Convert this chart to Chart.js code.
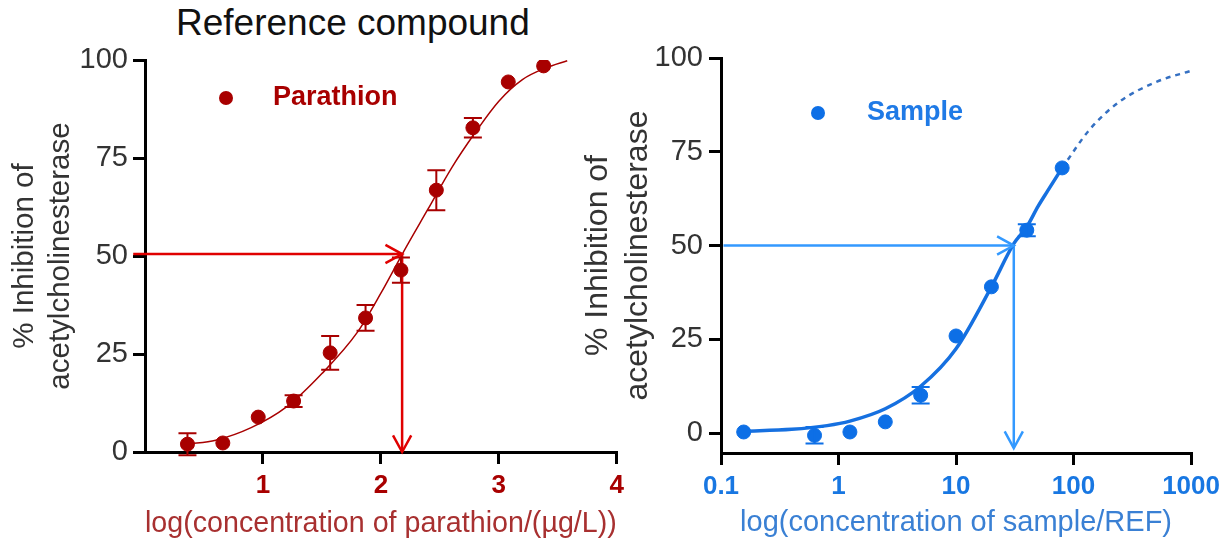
<!DOCTYPE html>
<html>
<head>
<meta charset="utf-8">
<script src="https://cdn.jsdelivr.net/npm/chart.js@4/dist/chart.umd.min.js"></script>
<style>
  body { margin: 0; background: #fff; width: 1226px; height: 546px; position: relative; overflow: hidden;
         font-family: "Liberation Sans", Arial, sans-serif; }
  #leftChart { position: absolute; left: 0; top: 0; }
  #rightChart { position: absolute; left: 560px; top: 0; }
  #title { position: absolute; left: 176px; top: 2px; font-size: 37px; color: #111; white-space: nowrap; }
</style>
</head>
<body>
<div id="title">Reference compound</div>
<canvas id="leftChart" width="630" height="546"></canvas>
<canvas id="rightChart" width="666" height="546"></canvas>
<script>
// reference compound (parathion), x = log10 of concentration in µg/L
const parathionLogConc = [0.36, 0.66, 0.96, 1.26, 1.57, 1.87, 2.17, 2.47, 2.78, 3.08, 3.38];
const parathionInhibition = [2.0, 2.3, 8.9, 13.0, 25.3, 34.2, 46.4, 66.8, 82.7, 94.4, 98.5];
const parathionSem = [2.8, 0, 0, 1.5, 4.3, 3.3, 3.2, 5.1, 2.5, 0, 0];
// fitted curve
const parathionFitX = [0.36, 0.6, 0.9, 1.2, 1.5, 1.8, 2.0, 2.2, 2.4, 2.6, 2.8, 3.0, 3.2, 3.4, 3.58];
const parathionFitY = [2.0, 3.0, 6.2, 11.5, 20.0, 30.5, 40.5, 51.5, 62.0, 72.5, 81.5, 89.5, 95.0, 98.0, 99.8];
const parathionIC50 = 2.18;
const parathionHalf = 50.5;
const parathionTicks = [1, 2, 3, 4];

// sample, x = concentration relative to REF (log axis)
const sampleConc = [0.156, 0.625, 1.25, 2.5, 5, 10, 20, 40, 80];
const sampleInhibition = [0.3, -0.6, 0.3, 3.0, 10.1, 25.9, 39.0, 54.1, 70.7];
const sampleSem = [0, 2.2, 0, 0, 2.2, 0, 0, 1.6, 0];
const sampleFitConc = [0.156, 0.4, 0.8, 1.25, 2.5, 5, 10, 20, 31, 40, 50, 60, 80];
const sampleFitY = [0.5, 1.0, 2.0, 3.2, 6.5, 12.5, 22.5, 39.0, 50.5, 55.0, 60.5, 64.5, 70.7];
// dashed extrapolation
const sampleExtConc = [80, 136, 247, 513, 1000];
const sampleExtY = [70.7, 80.8, 88.4, 93.7, 96.6];
const sampleIC50 = 31;
const sampleHalf = 50;
const sampleTicks = [0.1, 1, 10, 100, 1000];

const yTicks = [0, 25, 50, 75, 100];

Chart.defaults.font.family = "'Liberation Sans', Arial, sans-serif";

function pts(xs, ys) {
  return xs.map((x, i) => ({ x: x, y: ys[i] }));
}

const errorBars = {
  id: 'errorBars',
  afterDatasetsDraw(chart) {
    const ctx = chart.ctx;
    const xs = chart.scales.x, ys = chart.scales.y;
    chart.data.datasets.forEach(ds => {
      if (!ds.errors) return;
      ctx.save();
      ctx.strokeStyle = ds.backgroundColor;
      ctx.lineWidth = 2;
      ds.data.forEach((p, j) => {
        const e = ds.errors[j];
        if (!e) return;
        const x = xs.getPixelForValue(p.x);
        const yt = ys.getPixelForValue(p.y + e);
        const yb = ys.getPixelForValue(p.y - e);
        ctx.beginPath();
        ctx.moveTo(x, yt); ctx.lineTo(x, yb);
        ctx.moveTo(x - 9, yt); ctx.lineTo(x + 9, yt);
        ctx.moveTo(x - 9, yb); ctx.lineTo(x + 9, yb);
        ctx.stroke();
      });
      ctx.restore();
    });
  }
};

const arrowHeads = {
  id: 'arrowHeads',
  afterDatasetsDraw(chart) {
    const ctx = chart.ctx;
    chart.data.datasets.forEach((ds, i) => {
      if (!ds.arrow) return;
      const el = chart.getDatasetMeta(i).data;
      const a = el[el.length - 2], b = el[el.length - 1];
      const ang = Math.atan2(b.y - a.y, b.x - a.x);
      const len = 19, spread = 0.5;
      ctx.save();
      ctx.strokeStyle = ds.borderColor;
      ctx.lineWidth = ds.borderWidth;
      ctx.beginPath();
      ctx.moveTo(b.x - len * Math.cos(ang - spread), b.y - len * Math.sin(ang - spread));
      ctx.lineTo(b.x, b.y);
      ctx.lineTo(b.x - len * Math.cos(ang + spread), b.y - len * Math.sin(ang + spread));
      ctx.stroke();
      ctx.restore();
    });
  }
};

// legend drawn inside the plot: a dot and a bold label
const markLegend = {
  id: 'markLegend',
  afterDraw(chart, args, opts) {
    const { ctx, chartArea } = chart;
    const x = chartArea.left + opts.dx, y = chartArea.top + opts.dy;
    ctx.save();
    ctx.fillStyle = opts.dotColor;
    ctx.beginPath();
    ctx.arc(x, y, 7, 0, Math.PI * 2);
    ctx.fill();
    ctx.fillStyle = opts.color;
    ctx.font = "bold 27px 'Liberation Sans', Arial, sans-serif";
    ctx.textBaseline = 'middle';
    ctx.fillText(opts.text, x + opts.gap, y);
    ctx.restore();
  }
};

function axisGrid(hideZero) {
  return {
    display: true,
    drawOnChartArea: false,
    drawTicks: true,
    tickLength: 12,
    lineWidth: 3,
    color: c => (hideZero && c.tick && c.tick.value === 0) ? 'rgba(0,0,0,0)' : '#000'
  };
}

const leftRed = '#a80000';
new Chart(document.getElementById('leftChart'), {
  type: 'scatter',
  data: {
    datasets: [
      {
        label: 'Parathion',
        data: pts(parathionLogConc, parathionInhibition),
        errors: parathionSem,
        backgroundColor: leftRed,
        borderColor: leftRed,
        pointRadius: 7,
        pointHoverRadius: 7
      },
      {
        label: 'fit',
        data: pts(parathionFitX, parathionFitY),
        showLine: true,
        borderColor: leftRed,
        borderWidth: 1.5,
        pointRadius: 0,
        cubicInterpolationMode: 'monotone'
      },
      {
        label: 'ic50 h',
        data: [{ x: -0.1, y: parathionHalf }, { x: parathionIC50, y: parathionHalf }],
        showLine: true,
        arrow: true,
        borderColor: '#e00000',
        borderWidth: 2.5,
        pointRadius: 0,
        clip: false
      },
      {
        label: 'ic50 v',
        data: [{ x: parathionIC50, y: parathionHalf }, { x: parathionIC50, y: 0 }],
        showLine: true,
        arrow: true,
        borderColor: '#e00000',
        borderWidth: 2.5,
        pointRadius: 0,
        clip: false
      }
    ]
  },
  options: {
    responsive: false,
    devicePixelRatio: 1,
    animation: false,
    events: [],
    layout: { padding: { top: 60, right: 13, left: 0, bottom: 0 } },
    plugins: {
      legend: { display: false },
      tooltip: { enabled: false },
      markLegend: { dx: 81, dy: 38, gap: 47, text: 'Parathion', color: leftRed, dotColor: leftRed }
    },
    scales: {
      x: {
        type: 'linear',
        min: 0,
        max: 4,
        afterBuildTicks: s => { s.ticks = [0].concat(parathionTicks).map(v => ({ value: v })); },
        afterFit: s => { s.height = 94; },
        grid: axisGrid(true),
        border: { display: true, width: 3, color: '#000' },
        ticks: {
          padding: 6,
          color: leftRed,
          font: { size: 26, weight: 'bold' },
          callback: v => v === 0 ? '' : String(v)
        },
        title: {
          display: true,
          text: 'log(concentration of parathion/(µg/L))',
          color: '#a83030',
          font: { size: 29.5 },
          padding: { top: 0, bottom: 4 }
        }
      },
      y: {
        min: 0,
        max: 100,
        afterBuildTicks: s => { s.ticks = yTicks.map(v => ({ value: v })); },
        afterFit: s => { s.width = 145; },
        grid: axisGrid(false),
        border: { display: true, width: 3, color: '#000' },
        ticks: { padding: 5, color: '#333', font: { size: 29 } },
        title: {
          display: true,
          text: ['% Inhibition of', 'acetylcholinesterase'],
          color: '#333',
          font: { size: 29.5, lineHeight: 1.22 },
          padding: { top: 7, bottom: 0 }
        }
      }
    }
  },
  plugins: [errorBars, arrowHeads, markLegend]
});

const blue = '#0d6fe6';
new Chart(document.getElementById('rightChart'), {
  type: 'scatter',
  data: {
    datasets: [
      {
        label: 'Sample',
        data: pts(sampleConc, sampleInhibition),
        errors: sampleSem,
        backgroundColor: blue,
        borderColor: blue,
        pointRadius: 7,
        pointHoverRadius: 7
      },
      {
        label: 'fit',
        data: pts(sampleFitConc, sampleFitY),
        showLine: true,
        borderColor: '#1670e0',
        borderWidth: 3.5,
        pointRadius: 0,
        cubicInterpolationMode: 'monotone'
      },
      {
        label: 'extrapolation',
        data: pts(sampleExtConc, sampleExtY),
        showLine: true,
        borderColor: '#3570c2',
        borderWidth: 2.5,
        borderDash: [5, 5],
        pointRadius: 0,
        cubicInterpolationMode: 'monotone'
      },
      {
        label: 'ic50 h',
        data: [{ x: 0.105, y: sampleHalf }, { x: sampleIC50, y: sampleHalf }],
        showLine: true,
        arrow: true,
        borderColor: '#3399ff',
        borderWidth: 2.5,
        pointRadius: 0
      },
      {
        label: 'ic50 v',
        data: [{ x: sampleIC50, y: sampleHalf }, { x: sampleIC50, y: -4 }],
        showLine: true,
        arrow: true,
        borderColor: '#3399ff',
        borderWidth: 2.5,
        pointRadius: 0
      }
    ]
  },
  options: {
    responsive: false,
    devicePixelRatio: 1,
    animation: false,
    events: [],
    layout: { padding: { top: 58, right: 34, left: 0, bottom: 0 } },
    plugins: {
      legend: { display: false },
      tooltip: { enabled: false },
      markLegend: { dx: 97, dy: 55, gap: 49, text: 'Sample', color: '#1f7ae6', dotColor: blue }
    },
    scales: {
      x: {
        type: 'logarithmic',
        min: 0.1,
        max: 1000,
        afterBuildTicks: s => { s.ticks = sampleTicks.map(v => ({ value: v })); },
        afterFit: s => { s.height = 93; },
        grid: axisGrid(false),
        border: { display: true, width: 3, color: '#000' },
        ticks: {
          padding: 6,
          color: '#1877e2',
          font: { size: 26, weight: 'bold' },
          callback: v => String(v)
        },
        title: {
          display: true,
          text: 'log(concentration of sample/REF)',
          color: '#3a80d4',
          font: { size: 29 },
          padding: { top: 0, bottom: 6 }
        }
      },
      y: {
        min: -5.3,
        max: 100,
        afterBuildTicks: s => { s.ticks = yTicks.map(v => ({ value: v })); },
        afterFit: s => { s.width = 161; },
        grid: axisGrid(false),
        border: { display: true, width: 3, color: '#000' },
        ticks: { padding: 6, color: '#333', font: { size: 29 } },
        title: {
          display: true,
          text: ['% Inhibition of', 'acetylcholinesterase'],
          color: '#333',
          font: { size: 32, lineHeight: 1.25 },
          padding: { top: 18, bottom: 0 }
        }
      }
    }
  },
  plugins: [errorBars, arrowHeads, markLegend]
});
</script>
</body>
</html>
